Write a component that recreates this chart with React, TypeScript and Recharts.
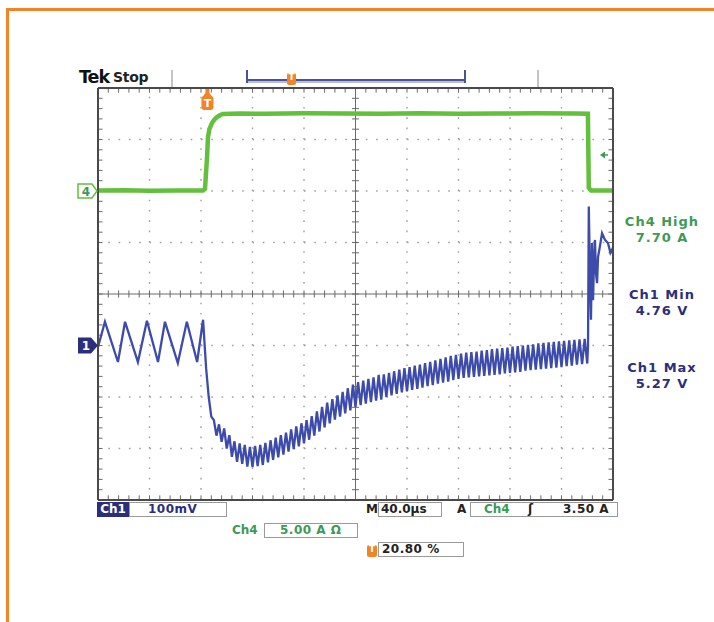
import React from "react";
import {
  ComposedChart,
  Line,
  XAxis,
  YAxis,
  ReferenceLine,
  ReferenceDot,
} from "recharts";

// time base 40 µs/div, 10 divs
const TIME_DOMAIN = [0, 400];
// Ch4 current probe 5 A/div, zero at the "4" marker
const CH4_DOMAIN = [-30, 10];
// Ch1 100 mV/div
const CH1_DOMAIN = [4.7, 5.5];

const CH1_OFFSET = 5.0;
const TRIG_TIME = 85;
const TRIG_LEVEL = 3.5;

// Ch4 (green): current step
const ch4Times = [0, 20, 40, 60, 81.6, 83.1, 84.7, 85.4, 86.5, 88.5, 90.5, 92.4, 95, 97.1, 110, 130, 160, 190, 220, 250, 280, 310, 340, 370, 380.5, 381.2, 383, 400];
const ch4Amps = [0.05, 0.08, 0.03, 0.06, 0.05, 0.2, 3.3, 5.2, 6.0, 6.6, 6.95, 7.18, 7.38, 7.48, 7.52, 7.5, 7.55, 7.52, 7.5, 7.55, 7.5, 7.52, 7.55, 7.52, 7.5, 0.3, 0.05, 0.05];

// Ch1 (blue): before the step
const ch1HeadTimes = [0, 5.4, 15.5, 21, 31, 38, 46.6, 52, 62, 69, 77, 81.6, 84, 86, 88];
const ch1HeadVolts = [4.997, 5.046, 4.968, 5.046, 4.968, 5.048, 4.968, 5.046, 4.966, 5.046, 4.968, 5.05, 4.955, 4.9, 4.862];

// Ch1 ripple during the step, one sample every 2 µs from 90 µs
const RIPPLE_T0 = 90;
const RIPPLE_DT = 2;
const ch1Ripple = [
  4.855, 4.825, 4.847, 4.813, 4.839, 4.8, 4.826, 4.784, 4.814, 4.774,
  4.81, 4.77, 4.807, 4.765, 4.803, 4.764, 4.805, 4.766, 4.807, 4.768,
  4.811, 4.773, 4.816, 4.778, 4.821, 4.783, 4.826, 4.788, 4.831, 4.794,
  4.837, 4.799, 4.843, 4.804, 4.849, 4.81, 4.855, 4.817, 4.863, 4.825,
  4.872, 4.833, 4.881, 4.841, 4.889, 4.849, 4.896, 4.856, 4.903, 4.862,
  4.91, 4.868, 4.917, 4.874, 4.924, 4.881, 4.929, 4.884, 4.932, 4.887,
  4.935, 4.89, 4.938, 4.893, 4.943, 4.895, 4.944, 4.9, 4.947, 4.903,
  4.95, 4.906, 4.953, 4.909, 4.956, 4.911, 4.958, 4.914, 4.961, 4.916,
  4.963, 4.918, 4.966, 4.921, 4.968, 4.923, 4.971, 4.926, 4.974, 4.928,
  4.977, 4.93, 4.98, 4.933, 4.982, 4.935, 4.984, 4.937, 4.986, 4.938,
  4.987, 4.939, 4.988, 4.94, 4.99, 4.941, 4.991, 4.942, 4.993, 4.943,
  4.994, 4.944, 4.995, 4.946, 4.996, 4.947, 4.998, 4.948, 4.999, 4.949,
  5.0, 4.951, 5.001, 4.952, 5.002, 4.953, 5.004, 4.954, 5.005, 4.955,
  5.006, 4.956, 5.007, 4.957, 5.008, 4.958, 5.009, 4.96, 5.01, 4.961,
  5.011, 4.963, 5.012, 4.964, 5.013, 4.965,
];

// Ch1 after the step is released
const ch1TailTimes = [380.6, 381.2, 382.0, 382.9, 383.7, 384.5, 385.2, 386, 386.8, 387.6, 388.4, 390, 391.5, 393.8, 396.1, 398, 400];
const ch1TailVolts = [5.0, 5.27, 5.15, 5.05, 5.199, 5.088, 5.16, 5.205, 5.14, 5.121, 5.172, 5.195, 5.218, 5.205, 5.199, 5.18, 5.19];

const ch4Data = ch4Times.map((t, i) => ({ t, v: ch4Amps[i] }));
const ch1Data = [
  ...ch1HeadTimes.map((t, i) => ({ t, v: ch1HeadVolts[i] })),
  ...ch1Ripple.map((v, i) => ({ t: RIPPLE_T0 + i * RIPPLE_DT, v })),
  ...ch1TailTimes.map((t, i) => ({ t, v: ch1TailVolts[i] })),
];

// graticule
const majorX = [40, 80, 120, 160, 240, 280, 320, 360];
const majorY = [-25, -20, -15, -5, 0, 5];
const minorX = Array.from({ length: 49 }, (_, i) => (i + 1) * 8);
const minorY = Array.from({ length: 39 }, (_, i) => -30 + (i + 1));

const GREEN = "#62c03c";
const BLUE = "#3d4bab";
const NAVY = "#2b2e7c";
const TXT_GREEN = "#3d9a55";
const ORANGE = "#ef8428";

const font = '"DejaVu Sans", Verdana, sans-serif';

const abs = (s: React.CSSProperties): React.CSSProperties => ({
  position: "absolute",
  fontFamily: font,
  fontWeight: "bold",
  whiteSpace: "nowrap",
  ...s,
});

const box = (left: number, top: number, width: number): React.CSSProperties =>
  abs({ left, top, width, height: 13, border: "1px solid #9a9a9a", background: "#fff" });

function Ch4Marker(p: any) {
  const { cx, cy } = p;
  return (
    <g>
      <path
        d={`M${cx - 20},${cy - 7} L${cx - 6},${cy - 7} L${cx - 1},${cy} L${cx - 6},${cy + 7} L${cx - 20},${cy + 7} Z`}
        fill="#fff"
        stroke={GREEN}
        strokeWidth={1.5}
      />
      <text x={cx - 12} y={cy + 4.5} fontSize={12} fontFamily={font} fontWeight="bold" fill={TXT_GREEN} textAnchor="middle">
        4
      </text>
    </g>
  );
}

function Ch1Marker(p: any) {
  const { cx, cy } = p;
  return (
    <g>
      <path
        d={`M${cx - 20},${cy - 8} L${cx - 7},${cy - 8} L${cx},${cy} L${cx - 7},${cy + 8} L${cx - 20},${cy + 8} Z`}
        fill={NAVY}
      />
      <text x={cx - 12} y={cy + 4.5} fontSize={12} fontFamily={font} fontWeight="bold" fill="#fff" textAnchor="middle">
        1
      </text>
    </g>
  );
}

function TrigMarker(p: any) {
  const { cx, cy } = p;
  return (
    <g>
      <path d={`M${cx - 2},${cy + 1} L${cx + 2},${cy + 1} L${cx + 2},${cy + 5} L${cx + 5},${cy + 9} L${cx - 5},${cy + 9} L${cx - 2},${cy + 5} Z`} fill={ORANGE} />
      <rect x={cx - 6} y={cy + 8} width={12} height={14} rx={3} fill={ORANGE} />
      <text x={cx} y={cy + 19} fontSize={11} fontFamily={font} fontWeight="bold" fill="#fff" textAnchor="middle">
        T
      </text>
    </g>
  );
}

function LevelMarker(p: any) {
  const { cx, cy } = p;
  return (
    <g>
      <path d={`M${cx - 13},${cy} L${cx - 8},${cy - 3.5} L${cx - 8},${cy + 3.5} Z`} fill={TXT_GREEN} />
      <line x1={cx - 9} y1={cy} x2={cx - 5} y2={cy} stroke={TXT_GREEN} strokeWidth={1.5} />
    </g>
  );
}

export default function App() {
  const dot = { stroke: "#a0a0a0", strokeWidth: 1.4, strokeDasharray: "1.6 8.7" };
  const tick = { stroke: "#6a6a6a", strokeWidth: 1 };
  return (
    <div style={{ position: "absolute", left: 0, top: 0, width: 714, height: 622, background: "#fff", overflow: "hidden" }}>
      {/* orange page frame */}
      <div style={{ position: "absolute", left: 6, top: 8, width: 708, height: 3, background: ORANGE }} />
      <div style={{ position: "absolute", left: 6, top: 8, width: 3, height: 614, background: ORANGE }} />

      <ComposedChart width={714} height={622} margin={{ top: 88, left: 98, right: 101, bottom: 122 }}>
        <XAxis dataKey="t" type="number" domain={TIME_DOMAIN} hide allowDataOverflow />
        <YAxis yAxisId="ch4" type="number" domain={CH4_DOMAIN} hide allowDataOverflow />
        <YAxis yAxisId="ch1" type="number" domain={CH1_DOMAIN} hide allowDataOverflow />

        {majorX.map((x) => (
          <ReferenceLine key={`gx${x}`} yAxisId="ch4" x={x} {...dot} />
        ))}
        {majorY.map((y) => (
          <ReferenceLine key={`gy${y}`} yAxisId="ch4" y={y} {...dot} />
        ))}
        <ReferenceLine yAxisId="ch4" x={200} stroke="#6a6a6a" strokeWidth={1} />
        <ReferenceLine yAxisId="ch4" y={-10} stroke="#6a6a6a" strokeWidth={1} />

        {minorX.map((x) => (
          <ReferenceLine key={`cx${x}`} yAxisId="ch4" segment={[{ x, y: -10.35 }, { x, y: -9.65 }]} {...tick} />
        ))}
        {minorY.map((y) => (
          <ReferenceLine key={`cy${y}`} yAxisId="ch4" segment={[{ x: 197.3, y }, { x: 202.7, y }]} {...tick} />
        ))}
        {minorX.map((x) => (
          <ReferenceLine key={`tx${x}`} yAxisId="ch4" segment={[{ x, y: 10 }, { x, y: 9.55 }]} {...tick} />
        ))}
        {minorX.map((x) => (
          <ReferenceLine key={`bx${x}`} yAxisId="ch4" segment={[{ x, y: -30 }, { x, y: -29.55 }]} {...tick} />
        ))}
        {minorY.map((y) => (
          <ReferenceLine key={`ly${y}`} yAxisId="ch4" segment={[{ x: 0, y }, { x: 3.5, y }]} {...tick} />
        ))}
        {minorY.map((y) => (
          <ReferenceLine key={`ry${y}`} yAxisId="ch4" segment={[{ x: 396.5, y }, { x: 400, y }]} {...tick} />
        ))}

        <Line
          yAxisId="ch4"
          data={ch4Data}
          dataKey="v"
          type="linear"
          stroke={GREEN}
          strokeWidth={4.5}
          dot={false}
          isAnimationActive={false}
        />
        <Line
          yAxisId="ch1"
          data={ch1Data}
          dataKey="v"
          type="linear"
          stroke={BLUE}
          strokeWidth={2.3}
          dot={false}
          isAnimationActive={false}
        />

        {/* border */}
        <ReferenceLine yAxisId="ch4" x={0} stroke="#4a4a4a" strokeWidth={2} />
        <ReferenceLine yAxisId="ch4" x={400} stroke="#4a4a4a" strokeWidth={2} />
        <ReferenceLine yAxisId="ch4" y={10} stroke="#4a4a4a" strokeWidth={2} />
        <ReferenceLine yAxisId="ch4" y={-30} stroke="#4a4a4a" strokeWidth={2} />

        <ReferenceDot yAxisId="ch4" x={0} y={0} r={1} shape={Ch4Marker} ifOverflow="visible" />
        <ReferenceDot yAxisId="ch1" x={0} y={CH1_OFFSET} r={1} shape={Ch1Marker} ifOverflow="visible" />
        <ReferenceDot yAxisId="ch4" x={TRIG_TIME} y={10} r={1} shape={TrigMarker} ifOverflow="visible" />
        <ReferenceDot yAxisId="ch4" x={400} y={TRIG_LEVEL} r={1} shape={LevelMarker} ifOverflow="visible" />
      </ComposedChart>

      {/* header */}
      <div style={abs({ left: 79, top: 67, fontSize: 17.5, letterSpacing: -1, color: "#111" })}>Tek</div>
      <div style={abs({ left: 113, top: 69, fontSize: 14, letterSpacing: -0.3, color: "#222" })}>Stop</div>
      <div style={{ position: "absolute", left: 171, top: 70, width: 1.5, height: 17, background: "#c4c4c4" }} />
      <div style={{ position: "absolute", left: 537, top: 70, width: 1.5, height: 17, background: "#c4c4c4" }} />
      <div style={{ position: "absolute", left: 246, top: 70, width: 2, height: 13, background: "#4d5390" }} />
      <div style={{ position: "absolute", left: 464, top: 70, width: 2, height: 13, background: "#4d5390" }} />
      <div style={{ position: "absolute", left: 246, top: 79, width: 220, height: 2, background: "#4d5390" }} />
      <div style={{ position: "absolute", left: 248, top: 81, width: 216, height: 2, background: "#b8bde0" }} />
      <div style={{ position: "absolute", left: 287, top: 73, width: 9, height: 12, borderRadius: 2, background: ORANGE }} />
      <div style={abs({ left: 287, top: 72, width: 9, fontSize: 9, color: "#fff", textAlign: "center" })}>T</div>

      {/* measurements */}
      <div style={abs({ left: 612, top: 214, width: 100, textAlign: "center", fontSize: 13, letterSpacing: 1, color: TXT_GREEN })}>Ch4 High</div>
      <div style={abs({ left: 612, top: 230, width: 100, textAlign: "center", fontSize: 13, letterSpacing: 1, color: TXT_GREEN })}>7.70 A</div>
      <div style={abs({ left: 612, top: 287, width: 100, textAlign: "center", fontSize: 13, letterSpacing: 1, color: NAVY })}>Ch1 Min</div>
      <div style={abs({ left: 612, top: 303, width: 100, textAlign: "center", fontSize: 13, letterSpacing: 1, color: NAVY })}>4.76 V</div>
      <div style={abs({ left: 612, top: 360, width: 100, textAlign: "center", fontSize: 13, letterSpacing: 1, color: NAVY })}>Ch1 Max</div>
      <div style={abs({ left: 612, top: 376, width: 100, textAlign: "center", fontSize: 13, letterSpacing: 1, color: NAVY })}>5.27 V</div>

      {/* readouts row 1 */}
      <div style={abs({ left: 97, top: 502, width: 32, height: 15, background: NAVY, color: "#fff", fontSize: 12, lineHeight: "15px", textAlign: "center" })}>Ch1</div>
      <div style={box(129, 502, 96)} />
      <div style={abs({ left: 148, top: 502, fontSize: 12, lineHeight: "15px", letterSpacing: 0.5, color: NAVY })}>100mV</div>
      <div style={abs({ left: 366, top: 502, fontSize: 12, lineHeight: "15px", color: "#222" })}>M</div>
      <div style={box(378, 502, 62)} />
      <div style={abs({ left: 381, top: 502, fontSize: 12, lineHeight: "15px", color: "#222" })}>40.0µs</div>
      <div style={abs({ left: 457, top: 502, fontSize: 12, lineHeight: "15px", color: "#222" })}>A</div>
      <div style={box(470, 502, 146)} />
      <div style={abs({ left: 484, top: 502, fontSize: 12, lineHeight: "15px", color: TXT_GREEN })}>Ch4</div>
      <div style={abs({ left: 528, top: 502, fontSize: 12, lineHeight: "15px", color: "#222" })}>ʃ</div>
      <div style={abs({ left: 563, top: 502, fontSize: 12, lineHeight: "15px", letterSpacing: 0.5, color: "#222" })}>3.50 A</div>

      {/* row 2 */}
      <div style={abs({ left: 232, top: 523, fontSize: 12, lineHeight: "15px", color: TXT_GREEN })}>Ch4</div>
      <div style={box(264, 523, 92)} />
      <div style={abs({ left: 280, top: 523, fontSize: 12, lineHeight: "15px", letterSpacing: 0.5, color: TXT_GREEN })}>5.00 A Ω</div>

      {/* row 3 */}
      <div style={{ position: "absolute", left: 367, top: 545, width: 10, height: 12, borderRadius: 2, background: ORANGE }} />
      <div style={abs({ left: 367, top: 544, width: 10, fontSize: 9, color: "#fff", textAlign: "center" })}>T</div>
      <div style={box(378, 542, 84)} />
      <div style={abs({ left: 382, top: 542, fontSize: 12, lineHeight: "15px", letterSpacing: 0.5, color: "#222" })}>20.80 %</div>
    </div>
  );
}
